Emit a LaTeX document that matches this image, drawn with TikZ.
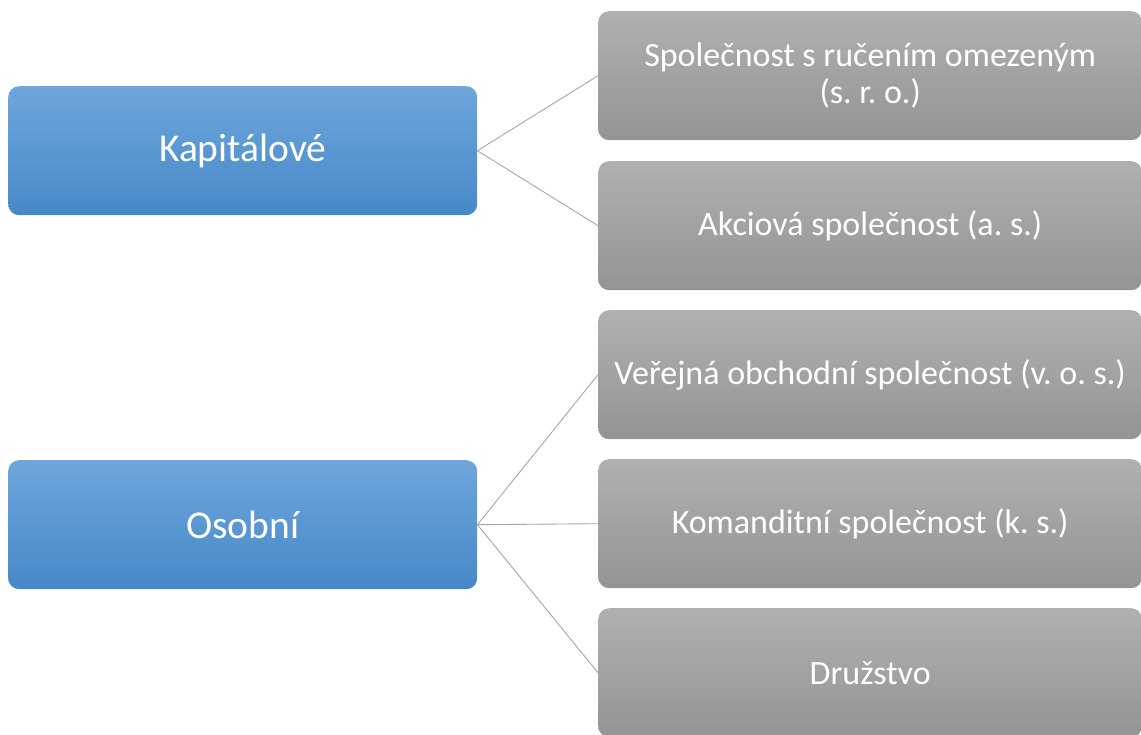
\documentclass[tikz,border=0pt]{standalone}
\usepackage{fontspec}
\setmainfont{Carlito}
\frenchspacing
\definecolor{bluetop}{HTML}{6FA6DC}
\definecolor{bluebot}{HTML}{4689C8}
\definecolor{graytop}{HTML}{B0B0B0}
\definecolor{graybot}{HTML}{949494}
\definecolor{linkgray}{HTML}{A6A6A6}
\tikzset{
  catbox/.style={anchor=north west, inner sep=0pt, minimum width=469pt, minimum height=129pt,
    rounded corners=11pt, top color=bluetop, bottom color=bluebot, draw=none,
    text=white, font=\fontsize{39.5}{44}\selectfont},
  typebox/.style={anchor=north west, inner sep=0pt, minimum width=544pt, minimum height=129pt,
    rounded corners=11pt, top color=graytop, bottom color=graybot, draw=none,
    text=white, font=\fontsize{34}{37}\selectfont, align=center},
  link/.style={draw=linkgray, line width=0.9pt}
}
\begin{document}
\begin{tikzpicture}[x=1pt,y=-1pt]
\path[use as bounding box] (0,0) rectangle (1141,734);
\clip (0,0) rectangle (1141,734);
\node[catbox] (kap) at (8,86) {Kapitálové};
\node[catbox] (oso) at (8,460) {Osobní};
\node[typebox] (sro) at (598,11) {Společnost s ručením omezeným\\(s. r. o.)};
\node[typebox] (as) at (598,161) {Akciová společnost (a. s.)};
\node[typebox] (vos) at (598,310) {Veřejná obchodní společnost (v. o. s.)};
\node[typebox] (ks) at (598,459) {Komanditní společnost (k. s.)};
\node[typebox] (dr) at (598,608) {Družstvo};
\draw[link] (kap.east) -- (sro.west);
\draw[link] (kap.east) -- (as.west);
\draw[link] (oso.east) -- (vos.west);
\draw[link] (oso.east) -- (ks.west);
\draw[link] (oso.east) -- (dr.west);
\end{tikzpicture}
\end{document}
